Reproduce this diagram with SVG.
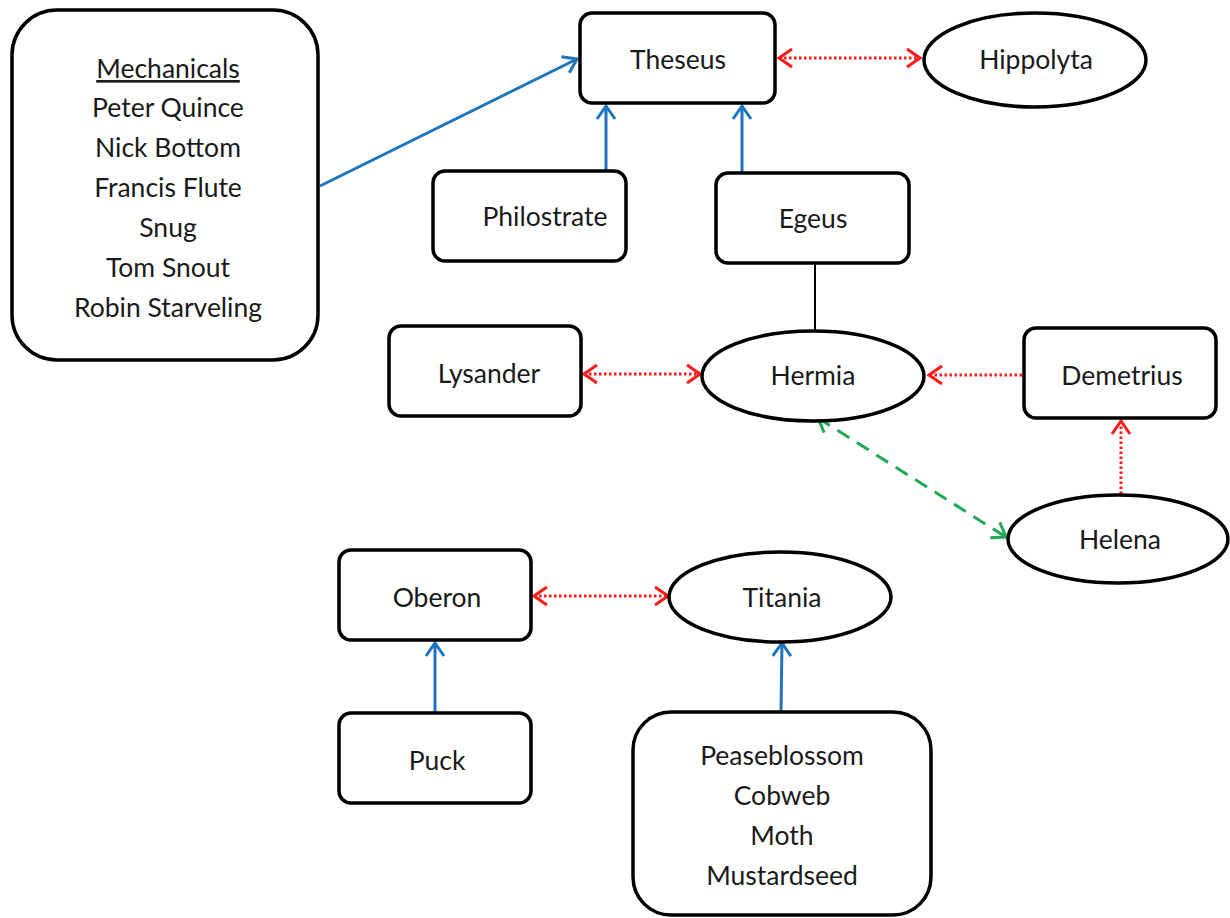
<svg xmlns="http://www.w3.org/2000/svg" width="1230" height="918" viewBox="0 0 1230 918">
<style>
.box{fill:#fff;stroke:#000;stroke-width:3.5}
.t{font-family:Lato,"Open Sans",sans-serif;font-size:26.5px;fill:#1a1a1a;text-anchor:middle}
.blue{stroke:#1f74bf;stroke-width:3;fill:none}
.red{stroke:#ff1a1a;stroke-width:3;fill:none;stroke-dasharray:2.5 2.5}
.green{stroke:#1fa855;stroke-width:3;fill:none;stroke-dasharray:14 9}
.blk{stroke:#000;stroke-width:2;fill:none}
</style>
<defs>
<marker id="ab" viewBox="0 0 22 22" refX="20" refY="11" markerWidth="22" markerHeight="22" markerUnits="userSpaceOnUse" orient="auto-start-reverse"><path d="M7,2 L20,11 L7,20" fill="none" stroke="#1f74bf" stroke-width="3"/></marker>
<marker id="ar" viewBox="0 0 22 22" refX="20" refY="11" markerWidth="22" markerHeight="22" markerUnits="userSpaceOnUse" orient="auto-start-reverse"><path d="M7,2 L20,11 L7,20" fill="none" stroke="#ff1a1a" stroke-width="3"/></marker>
<marker id="ag" viewBox="0 0 22 22" refX="20" refY="11" markerWidth="22" markerHeight="22" markerUnits="userSpaceOnUse" orient="auto-start-reverse"><path d="M7,2 L20,11 L7,20" fill="none" stroke="#1fa855" stroke-width="3"/></marker>
</defs>
<rect width="1230" height="918" fill="#fff"/>
<g id="connectors">
<line class="blue" x1="320" y1="186" x2="577" y2="59" marker-end="url(#ab)"/>
<line class="blue" x1="606" y1="171" x2="606" y2="106" marker-end="url(#ab)"/>
<line class="blue" x1="742" y1="172" x2="742" y2="106" marker-end="url(#ab)"/>
<line class="red" x1="779" y1="58" x2="920" y2="58" marker-start="url(#ar)" marker-end="url(#ar)"/>
<line class="blk" x1="815" y1="263" x2="815" y2="331"/>
<line class="red" x1="584" y1="374" x2="700" y2="374" marker-start="url(#ar)" marker-end="url(#ar)"/>
<line class="red" x1="1022" y1="375" x2="929" y2="375" marker-end="url(#ar)"/>
<line class="red" x1="1121" y1="494" x2="1121" y2="421" marker-end="url(#ar)"/>
<line class="green" x1="818" y1="418" x2="1006" y2="537" marker-start="url(#ag)" marker-end="url(#ag)"/>
<line class="red" x1="534" y1="596" x2="668" y2="596" marker-start="url(#ar)" marker-end="url(#ar)"/>
<line class="blue" x1="435" y1="713" x2="435" y2="643" marker-end="url(#ab)"/>
<line class="blue" x1="781" y1="711" x2="782" y2="643" marker-end="url(#ab)"/>
</g>
<g id="mechanicals">
<rect class="box" x="12" y="10" width="306" height="350" rx="45"/>
<text class="t" x="168" y="78" text-decoration="underline">Mechanicals</text>
<text class="t" x="168" y="117">Peter Quince</text>
<text class="t" x="168" y="157">Nick Bottom</text>
<text class="t" x="168" y="197">Francis Flute</text>
<text class="t" x="168" y="237">Snug</text>
<text class="t" x="168" y="277">Tom Snout</text>
<text class="t" x="168" y="317">Robin Starveling</text>
</g>
<g id="theseus"><rect class="box" x="580" y="13" width="195" height="90" rx="12"/><text class="t" x="678" y="69">Theseus</text></g>
<g id="hippolyta"><ellipse class="box" cx="1035" cy="60" rx="111" ry="47"/><text class="t" x="1036" y="69">Hippolyta</text></g>
<g id="philostrate"><rect class="box" x="433" y="171" width="193" height="90" rx="12"/><text class="t" x="545" y="226">Philostrate</text></g>
<g id="egeus"><rect class="box" x="716" y="173" width="193" height="90" rx="12"/><text class="t" x="813" y="228">Egeus</text></g>
<g id="lysander"><rect class="box" x="389" y="326" width="192" height="90" rx="12"/><text class="t" x="489" y="383">Lysander</text></g>
<g id="hermia"><ellipse class="box" cx="813" cy="376" rx="111" ry="45"/><text class="t" x="813" y="385">Hermia</text></g>
<g id="demetrius"><rect class="box" x="1024" y="328" width="192" height="90" rx="12"/><text class="t" x="1122" y="385">Demetrius</text></g>
<g id="helena"><ellipse class="box" cx="1118" cy="539" rx="110" ry="44"/><text class="t" x="1120" y="549">Helena</text></g>
<g id="oberon"><rect class="box" x="339" y="550" width="192" height="90" rx="12"/><text class="t" x="437" y="607">Oberon</text></g>
<g id="titania"><ellipse class="box" cx="780" cy="597" rx="111" ry="45"/><text class="t" x="782" y="607">Titania</text></g>
<g id="puck"><rect class="box" x="339" y="713" width="192" height="90" rx="12"/><text class="t" x="437" y="770">Puck</text></g>
<g id="fairies">
<rect class="box" x="633" y="712" width="298" height="203" rx="38"/>
<text class="t" x="782" y="765">Peaseblossom</text>
<text class="t" x="782" y="805">Cobweb</text>
<text class="t" x="782" y="845">Moth</text>
<text class="t" x="782" y="885">Mustardseed</text>
</g>
</svg>
